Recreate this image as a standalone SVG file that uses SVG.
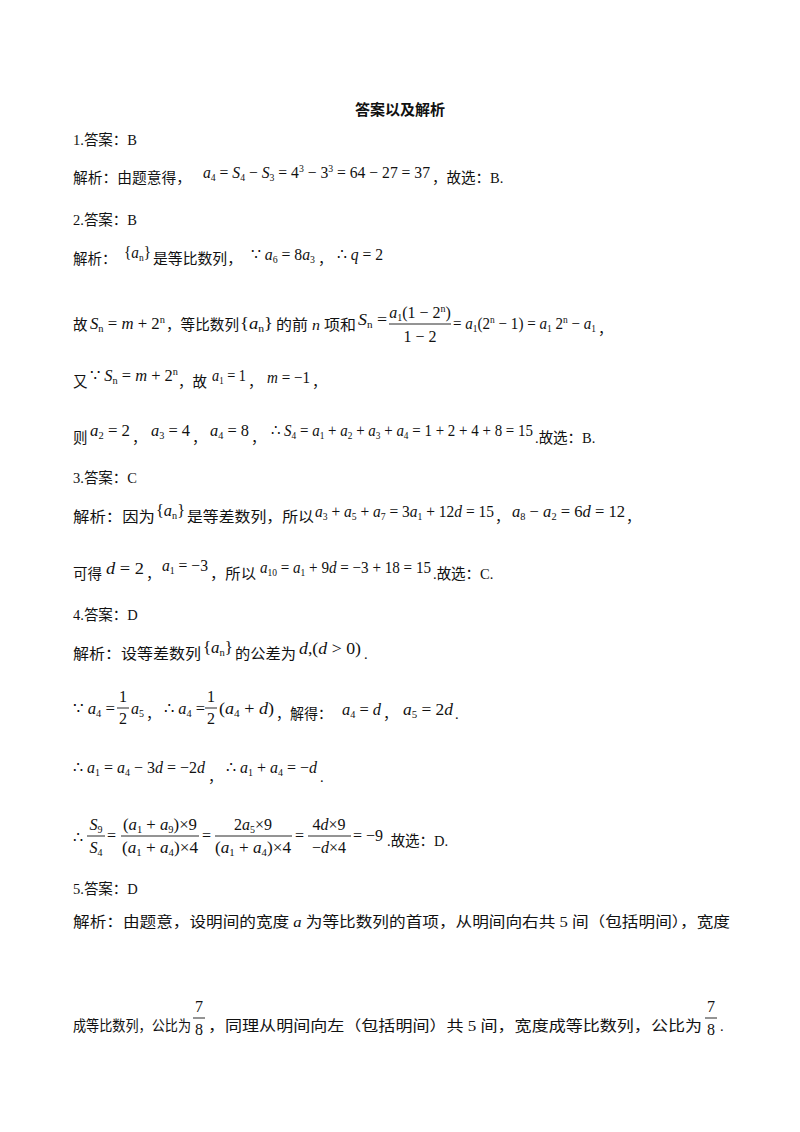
<svg xmlns="http://www.w3.org/2000/svg" width="800" height="1132" viewBox="0 0 800 1132">
<style>
text{font-family:"Liberation Serif","Noto Sans CJK SC",serif;font-size:14.5px;fill:#111}
.m{font-family:"Liberation Serif","Times New Roman",serif;font-size:16px}
.i{font-style:italic}
.s{font-size:10px;font-style:normal}
.b{font-weight:bold;font-size:15px}
line{stroke:#111;stroke-width:0.9}
</style>
<rect width="800" height="1132" fill="#fff"/>
<g id="title"><text x="400" y="115" text-anchor="middle" class="b">答案以及解析</text></g>
<g id="q1">
<text x="73" y="145">1.答案：B</text>
<text x="73" y="183" textLength="118" lengthAdjust="spacingAndGlyphs">解析：由题意得，</text>
<text x="203" y="178" class="m" textLength="227" lengthAdjust="spacingAndGlyphs"><tspan class="i">a</tspan><tspan class="s" dy="3">4</tspan><tspan dy="-3"> = </tspan><tspan class="i">S</tspan><tspan class="s" dy="3">4</tspan><tspan dy="-3"> − </tspan><tspan class="i">S</tspan><tspan class="s" dy="3">3</tspan><tspan dy="-3"> = 4</tspan><tspan class="s" dy="-6">3</tspan><tspan dy="6"> − 3</tspan><tspan class="s" dy="-6">3</tspan><tspan dy="6"> = 64 − 27 = 37</tspan></text>
<text x="432" y="183">，故选：B.</text>
</g>
<g id="q2">
<text x="73" y="225">2.答案：B</text>
<text x="73" y="264">解析：</text>
<text x="124" y="258" class="m" textLength="27" lengthAdjust="spacingAndGlyphs">{<tspan class="i">a</tspan><tspan class="s i" dy="3">n</tspan><tspan dy="-3">}</tspan></text>
<text x="153" y="264" textLength="89" lengthAdjust="spacingAndGlyphs">是等比数列，</text>
<text x="251" y="260" class="m" textLength="64" lengthAdjust="spacingAndGlyphs">∵ <tspan class="i">a</tspan><tspan class="s" dy="3">6</tspan><tspan dy="-3"> = 8</tspan><tspan class="i">a</tspan><tspan class="s" dy="3">3</tspan></text>
<text x="318" y="264">，</text>
<text x="337" y="260" class="m" textLength="46" lengthAdjust="spacingAndGlyphs">∴ <tspan class="i">q</tspan> = 2</text>

<text x="73" y="330">故</text>
<text x="90" y="329" class="m" textLength="75" lengthAdjust="spacingAndGlyphs"><tspan class="i">S</tspan><tspan class="s i" dy="3">n</tspan><tspan dy="-3"> = </tspan><tspan class="i">m</tspan> + 2<tspan class="s i" dy="-6">n</tspan></text>
<text x="166" y="330" textLength="73" lengthAdjust="spacingAndGlyphs">，等比数列</text>
<text x="240" y="329" class="m" textLength="33" lengthAdjust="spacingAndGlyphs">{<tspan class="i">a</tspan><tspan class="s i" dy="3">n</tspan><tspan dy="-3">}</tspan></text>
<text x="276" y="330" textLength="80" lengthAdjust="spacingAndGlyphs">的前 <tspan class="i">n</tspan> 项和</text>
<text x="358" y="325" class="m" textLength="29" lengthAdjust="spacingAndGlyphs"><tspan class="i">S</tspan><tspan class="s i" dy="3">n</tspan><tspan dy="-3"> =</tspan></text>
<text x="420" y="318" class="m" text-anchor="middle"><tspan class="i">a</tspan><tspan class="s" dy="3">1</tspan><tspan dy="-3">(1 − 2</tspan><tspan class="s i" dy="-6">n</tspan><tspan dy="6">)</tspan></text>
<line x1="389" y1="324" x2="451" y2="324"/>
<text x="420" y="342" class="m" text-anchor="middle">1 − 2</text>
<text x="453" y="329" class="m" textLength="143" lengthAdjust="spacingAndGlyphs">= <tspan class="i">a</tspan><tspan class="s" dy="3">1</tspan><tspan dy="-3">(2</tspan><tspan class="s i" dy="-6">n</tspan><tspan dy="6"> − 1) = </tspan><tspan class="i">a</tspan><tspan class="s" dy="3">1</tspan><tspan dy="-3"> 2</tspan><tspan class="s i" dy="-6">n</tspan><tspan dy="6"> − </tspan><tspan class="i">a</tspan><tspan class="s" dy="3">1</tspan></text>
<text x="598" y="334">，</text>

<text x="73" y="387">又</text>
<text x="90" y="381" class="m" textLength="88" lengthAdjust="spacingAndGlyphs">∵ <tspan class="i">S</tspan><tspan class="s i" dy="3">n</tspan><tspan dy="-3"> = </tspan><tspan class="i">m</tspan> + 2<tspan class="s i" dy="-6">n</tspan></text>
<text x="178" y="387">，故</text>
<text x="212" y="381" class="m" textLength="34" lengthAdjust="spacingAndGlyphs"><tspan class="i">a</tspan><tspan class="s" dy="3">1</tspan><tspan dy="-3"> = 1</tspan></text>
<text x="248" y="387">，</text>
<text x="267" y="383" class="m" textLength="43" lengthAdjust="spacingAndGlyphs"><tspan class="i">m</tspan> = −1</text>
<text x="312" y="387">，</text>

<text x="73" y="443">则</text>
<text x="90" y="436" class="m" textLength="40" lengthAdjust="spacingAndGlyphs"><tspan class="i">a</tspan><tspan class="s" dy="3">2</tspan><tspan dy="-3"> = 2</tspan></text>
<text x="132" y="443">，</text>
<text x="151" y="436" class="m" textLength="39" lengthAdjust="spacingAndGlyphs"><tspan class="i">a</tspan><tspan class="s" dy="3">3</tspan><tspan dy="-3"> = 4</tspan></text>
<text x="192" y="443">，</text>
<text x="210" y="436" class="m" textLength="39" lengthAdjust="spacingAndGlyphs"><tspan class="i">a</tspan><tspan class="s" dy="3">4</tspan><tspan dy="-3"> = 8</tspan></text>
<text x="251" y="443">，</text>
<text x="271" y="436" class="m" textLength="262" lengthAdjust="spacingAndGlyphs">∴ <tspan class="i">S</tspan><tspan class="s" dy="3">4</tspan><tspan dy="-3"> = </tspan><tspan class="i">a</tspan><tspan class="s" dy="3">1</tspan><tspan dy="-3"> + </tspan><tspan class="i">a</tspan><tspan class="s" dy="3">2</tspan><tspan dy="-3"> + </tspan><tspan class="i">a</tspan><tspan class="s" dy="3">3</tspan><tspan dy="-3"> + </tspan><tspan class="i">a</tspan><tspan class="s" dy="3">4</tspan><tspan dy="-3"> = 1 + 2 + 4 + 8 = 15</tspan></text>
<text x="535" y="443">.故选：B.</text>
</g>
<g id="q3">
<text x="73" y="483">3.答案：C</text>
<text x="73" y="522" textLength="82" lengthAdjust="spacingAndGlyphs">解析：因为</text>
<text x="156" y="516" class="m" textLength="29" lengthAdjust="spacingAndGlyphs">{<tspan class="i">a</tspan><tspan class="s i" dy="3">n</tspan><tspan dy="-3">}</tspan></text>
<text x="187" y="522" textLength="127" lengthAdjust="spacingAndGlyphs">是等差数列，所以</text>
<text x="315" y="517" class="m" textLength="179" lengthAdjust="spacingAndGlyphs"><tspan class="i">a</tspan><tspan class="s" dy="3">3</tspan><tspan dy="-3"> + </tspan><tspan class="i">a</tspan><tspan class="s" dy="3">5</tspan><tspan dy="-3"> + </tspan><tspan class="i">a</tspan><tspan class="s" dy="3">7</tspan><tspan dy="-3"> = 3</tspan><tspan class="i">a</tspan><tspan class="s" dy="3">1</tspan><tspan dy="-3"> + 12</tspan><tspan class="i">d</tspan> = 15</text>
<text x="495" y="522">，</text>
<text x="512" y="517" class="m" textLength="113" lengthAdjust="spacingAndGlyphs"><tspan class="i">a</tspan><tspan class="s" dy="3">8</tspan><tspan dy="-3"> − </tspan><tspan class="i">a</tspan><tspan class="s" dy="3">2</tspan><tspan dy="-3"> = 6</tspan><tspan class="i">d</tspan> = 12</text>
<text x="626" y="522">，</text>

<text x="73" y="579">可得</text>
<text x="106" y="574" class="m" textLength="38" lengthAdjust="spacingAndGlyphs"><tspan class="i">d</tspan> = 2</text>
<text x="146" y="579">，</text>
<text x="162" y="571" class="m" textLength="46" lengthAdjust="spacingAndGlyphs"><tspan class="i">a</tspan><tspan class="s" dy="3">1</tspan><tspan dy="-3"> = −3</tspan></text>
<text x="210" y="579" textLength="46" lengthAdjust="spacingAndGlyphs">，所以</text>
<text x="260" y="573" class="m" textLength="171" lengthAdjust="spacingAndGlyphs"><tspan class="i">a</tspan><tspan class="s" dy="3">10</tspan><tspan dy="-3"> = </tspan><tspan class="i">a</tspan><tspan class="s" dy="3">1</tspan><tspan dy="-3"> + 9</tspan><tspan class="i">d</tspan> = −3 + 18 = 15</text>
<text x="433" y="579">.故选：C.</text>
</g>
<g id="q4">
<text x="73" y="620">4.答案：D</text>
<text x="73" y="659" textLength="128" lengthAdjust="spacingAndGlyphs">解析：设等差数列</text>
<text x="203" y="653" class="m" textLength="30" lengthAdjust="spacingAndGlyphs">{<tspan class="i">a</tspan><tspan class="s i" dy="3">n</tspan><tspan dy="-3">}</tspan></text>
<text x="235" y="659" textLength="61" lengthAdjust="spacingAndGlyphs">的公差为</text>
<text x="299" y="654" class="m" textLength="62" lengthAdjust="spacingAndGlyphs"><tspan class="i">d</tspan>,(<tspan class="i">d</tspan> &gt; 0)</text>
<text x="364" y="659">.</text>

<text x="73" y="714" class="m" textLength="42" lengthAdjust="spacingAndGlyphs">∵ <tspan class="i">a</tspan><tspan class="s" dy="3">4</tspan><tspan dy="-3"> =</tspan></text>
<text x="123" y="702" class="m" text-anchor="middle">1</text>
<line x1="117" y1="708" x2="129" y2="708"/>
<text x="123" y="724" class="m" text-anchor="middle">2</text>
<text x="131" y="714" class="m i">a<tspan class="s" dy="3">5</tspan></text>
<text x="146" y="719">，</text>
<text x="164" y="714" class="m" textLength="41" lengthAdjust="spacingAndGlyphs">∴ <tspan class="i">a</tspan><tspan class="s" dy="3">4</tspan><tspan dy="-3"> =</tspan></text>
<text x="211" y="702" class="m" text-anchor="middle">1</text>
<line x1="205" y1="708" x2="217" y2="708"/>
<text x="211" y="724" class="m" text-anchor="middle">2</text>
<text x="219" y="714" class="m" textLength="55" lengthAdjust="spacingAndGlyphs">(<tspan class="i">a</tspan><tspan class="s" dy="3">4</tspan><tspan dy="-3"> + </tspan><tspan class="i">d</tspan>)</text>
<text x="276" y="719" textLength="56" lengthAdjust="spacingAndGlyphs">，解得：</text>
<text x="342" y="715" class="m" textLength="39" lengthAdjust="spacingAndGlyphs"><tspan class="i">a</tspan><tspan class="s" dy="3">4</tspan><tspan dy="-3"> = </tspan><tspan class="i">d</tspan></text>
<text x="383" y="719">，</text>
<text x="403" y="715" class="m" textLength="50" lengthAdjust="spacingAndGlyphs"><tspan class="i">a</tspan><tspan class="s" dy="3">5</tspan><tspan dy="-3"> = 2</tspan><tspan class="i">d</tspan></text>
<text x="455" y="719">.</text>

<text x="73" y="773" class="m" textLength="132" lengthAdjust="spacingAndGlyphs">∴ <tspan class="i">a</tspan><tspan class="s" dy="3">1</tspan><tspan dy="-3"> = </tspan><tspan class="i">a</tspan><tspan class="s" dy="3">4</tspan><tspan dy="-3"> − 3</tspan><tspan class="i">d</tspan> = −2<tspan class="i">d</tspan></text>
<text x="208" y="782">，</text>
<text x="226" y="773" class="m" textLength="91" lengthAdjust="spacingAndGlyphs">∴ <tspan class="i">a</tspan><tspan class="s" dy="3">1</tspan><tspan dy="-3"> + </tspan><tspan class="i">a</tspan><tspan class="s" dy="3">4</tspan><tspan dy="-3"> = −</tspan><tspan class="i">d</tspan></text>
<text x="320" y="782">.</text>

<text x="73" y="843" class="m">∴</text>
<text x="96" y="830" class="m i" text-anchor="middle">S<tspan class="s" dy="3">9</tspan></text>
<line x1="87" y1="836" x2="105" y2="836"/>
<text x="96" y="853" class="m i" text-anchor="middle">S<tspan class="s" dy="3">4</tspan></text>
<text x="107" y="841" class="m">=</text>
<text x="160" y="830" class="m" text-anchor="middle" textLength="74" lengthAdjust="spacingAndGlyphs">(<tspan class="i">a</tspan><tspan class="s" dy="3">1</tspan><tspan dy="-3"> + </tspan><tspan class="i">a</tspan><tspan class="s" dy="3">9</tspan><tspan dy="-3">)×9</tspan></text>
<line x1="121" y1="836" x2="199" y2="836"/>
<text x="160" y="853" class="m" text-anchor="middle" textLength="76" lengthAdjust="spacingAndGlyphs">(<tspan class="i">a</tspan><tspan class="s" dy="3">1</tspan><tspan dy="-3"> + </tspan><tspan class="i">a</tspan><tspan class="s" dy="3">4</tspan><tspan dy="-3">)×4</tspan></text>
<text x="202" y="841" class="m">=</text>
<text x="253" y="830" class="m" text-anchor="middle">2<tspan class="i">a</tspan><tspan class="s" dy="3">5</tspan><tspan dy="-3">×9</tspan></text>
<line x1="215" y1="836" x2="292" y2="836"/>
<text x="253" y="853" class="m" text-anchor="middle" textLength="76" lengthAdjust="spacingAndGlyphs">(<tspan class="i">a</tspan><tspan class="s" dy="3">1</tspan><tspan dy="-3"> + </tspan><tspan class="i">a</tspan><tspan class="s" dy="3">4</tspan><tspan dy="-3">)×4</tspan></text>
<text x="295" y="841" class="m">=</text>
<text x="329" y="830" class="m" text-anchor="middle">4<tspan class="i">d</tspan>×9</text>
<line x1="308" y1="836" x2="351" y2="836"/>
<text x="329" y="853" class="m" text-anchor="middle">−<tspan class="i">d</tspan>×4</text>
<text x="353" y="841" class="m">= −9</text>
<text x="387" y="846">.故选：D.</text>
</g>
<g id="q5">
<text x="73" y="894">5.答案：D</text>
<text x="73" y="927" textLength="657" lengthAdjust="spacingAndGlyphs">解析：由题意，设明间的宽度 <tspan class="i">a</tspan> 为等比数列的首项，从明间向右共 5 间（包括明间），宽度</text>
<text x="73" y="1031" textLength="118" lengthAdjust="spacingAndGlyphs">成等比数列，公比为</text>
<text x="199" y="1012" class="m" text-anchor="middle">7</text>
<line x1="193" y1="1018" x2="205" y2="1018"/>
<text x="199" y="1035" class="m" text-anchor="middle">8</text>
<text x="208" y="1031" textLength="494" lengthAdjust="spacingAndGlyphs">，同理从明间向左（包括明间）共 5 间，宽度成等比数列，公比为</text>
<text x="711" y="1012" class="m" text-anchor="middle">7</text>
<line x1="705" y1="1018" x2="717" y2="1018"/>
<text x="711" y="1035" class="m" text-anchor="middle">8</text>
<text x="720" y="1031">.</text>
</g>
</svg>
